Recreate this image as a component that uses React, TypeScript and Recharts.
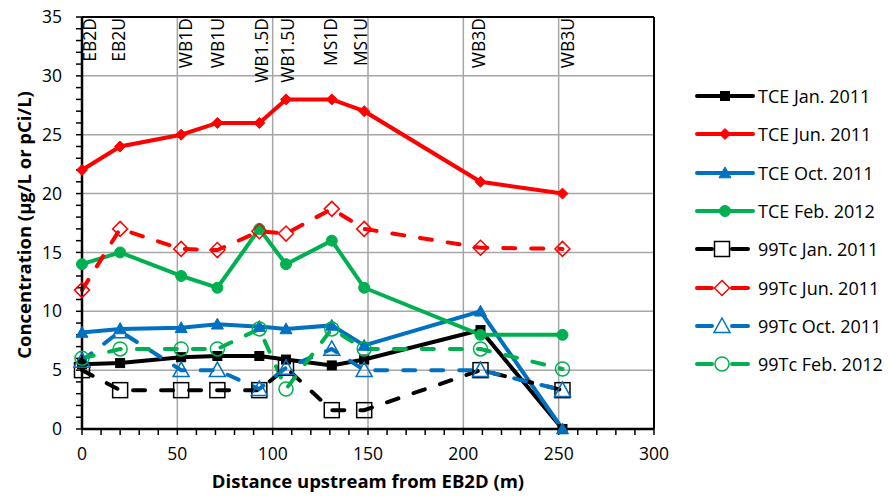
import React from 'react';
import { ComposedChart, Line, Scatter, XAxis, YAxis, CartesianGrid, Legend, ReferenceLine } from 'recharts';

// sampling sites along the stream
const sites = ['EB2D', 'EB2U', 'WB1D', 'WB1U', 'WB1.5D', 'WB1.5U', 'MS1D', 'MS1U', 'WB3D', 'WB3U'];
const distance = [0, 20, 52, 71, 93, 107, 131, 148, 209, 252];
const labelPos = [3.7, 18.9, 54, 70.8, 93.9, 107.5, 130, 145.8, 207.7, 254.3];

const tceJan2011 = [5.5, 5.6, 6.1, 6.2, 6.2, 5.9, 5.4, 5.9, 8.4, 0];
const tceJun2011 = [22, 24, 25, 26, 26, 28, 28, 27, 21, 20];
const tceOct2011 = [8.2, 8.5, 8.6, 8.9, 8.7, 8.5, 8.8, 7.1, 10, 0];
const tceFeb2012 = [14, 15, 13, 12, 17, 14, 16, 12, 8, 8];
const tcJan2011 = [5.0, 3.3, 3.3, 3.3, 3.3, 5.2, 1.6, 1.6, 5.0, 3.3];
const tcJun2011 = [11.8, 17, 15.3, 15.2, 16.8, 16.6, 18.7, 17, 15.4, 15.3];
const tcOct2011 = [5.8, 8.3, 5.0, 5.0, 3.4, 5.2, 6.8, 5.0, 5.0, 3.3];
const tcFeb2012 = [6.0, 6.8, 6.8, 6.8, 8.5, 3.4, 8.5, 6.8, 6.8, 5.1];

const xTicks = [0, 10, 20, 30, 40, 50, 60, 70, 80, 90, 100, 110, 120, 130, 140, 150, 160, 170, 180, 190, 200, 210, 220, 230, 240, 250, 260, 270, 280, 290, 300];
const yTicks = Array.from({ length: 36 }, (_, i) => i);

const FONT = '"Open Sans", sans-serif';
const BLACK = '#000000';
const RED = '#ff0000';
const BLUE = '#0070c0';
const GREEN = '#00b050';

type Shape = 'square' | 'diamond' | 'triangle' | 'circle';

interface SeriesDef {
  key: string;
  name: string;
  values: number[];
  color: string;
  shape: Shape;
  filled: boolean;
}

const series: SeriesDef[] = [
  { key: 'tceJan', name: 'TCE Jan. 2011', values: tceJan2011, color: BLACK, shape: 'square', filled: true },
  { key: 'tceJun', name: 'TCE Jun. 2011', values: tceJun2011, color: RED, shape: 'diamond', filled: true },
  { key: 'tceOct', name: 'TCE Oct. 2011', values: tceOct2011, color: BLUE, shape: 'triangle', filled: true },
  { key: 'tceFeb', name: 'TCE Feb. 2012', values: tceFeb2012, color: GREEN, shape: 'circle', filled: true },
  { key: 'tcJan', name: '99Tc Jan. 2011', values: tcJan2011, color: BLACK, shape: 'square', filled: false },
  { key: 'tcJun', name: '99Tc Jun. 2011', values: tcJun2011, color: RED, shape: 'diamond', filled: false },
  { key: 'tcOct', name: '99Tc Oct. 2011', values: tcOct2011, color: BLUE, shape: 'triangle', filled: false },
  { key: 'tcFeb', name: '99Tc Feb. 2012', values: tcFeb2012, color: GREEN, shape: 'circle', filled: false },
];

const data = distance.map((d, i) => {
  const row: Record<string, number> = { x: d };
  series.forEach(s => { row[s.key] = s.values[i]; });
  return row;
});

const labelData = labelPos.map((x, i) => ({ x, y: 35, name: sites[i] }));

const marker = (shape: Shape, color: string, filled: boolean, cx: number, cy: number, key?: any) => {
  const fill = filled ? color : 'none';
  const sw = filled ? 1 : 1.5;
  if (shape === 'square') {
    const s = filled ? 4.5 : 7.5;
    return <rect key={key} x={cx - s} y={cy - s} width={s * 2} height={s * 2} fill={fill} stroke={filled ? color : BLACK} strokeWidth={sw} />;
  }
  if (shape === 'diamond') {
    const d = filled ? 5.5 : 7.5;
    return <path key={key} d={`M${cx},${cy - d}L${cx + d},${cy}L${cx},${cy + d}L${cx - d},${cy}Z`} fill={fill} stroke={color} strokeWidth={sw} />;
  }
  if (shape === 'triangle') {
    const t = filled ? 6 : 8;
    return <path key={key} d={`M${cx},${cy - t}L${cx + t},${cy + t * 0.8}L${cx - t},${cy + t * 0.8}Z`} fill={fill} stroke={color} strokeWidth={sw} />;
  }
  return <circle key={key} cx={cx} cy={cy} r={filled ? 5.5 : 7} fill={fill} stroke={color} strokeWidth={sw} />;
};

const makeDot = (s: SeriesDef) => (p: any) => {
  if (p.cx == null || p.cy == null) return <g key={p.index} />;
  return marker(s.shape, s.color, s.filled, p.cx, p.cy, p.index);
};

const SiteLabel = (p: any) => {
  const { cx, cy, payload } = p;
  if (cx == null) return <g />;
  const y = cy + 1;
  return (
    <text
      x={cx}
      y={y}
      transform={`rotate(-90 ${cx} ${y})`}
      textAnchor="end"
      dominantBaseline="central"
      fontFamily={FONT}
      fontSize={17.5}
      fill={BLACK}
    >
      {payload.name}
    </text>
  );
};

const renderLegend = () => (
  <div style={{ fontFamily: FONT, fontSize: 18, color: BLACK }}>
    {series.map(s => (
      <div key={s.key} style={{ display: 'flex', alignItems: 'center', height: 38.3 }}>
        <svg width={66} height={20}>
          {s.filled ? (
            <line x1={7} y1={10} x2={63} y2={10} stroke={s.color} strokeWidth={4} strokeLinecap="round" />
          ) : (
            <g>
              <line x1={7} y1={10} x2={22} y2={10} stroke={s.color} strokeWidth={4} strokeLinecap="round" />
              <line x1={42} y1={10} x2={58} y2={10} stroke={s.color} strokeWidth={4} strokeLinecap="round" />
            </g>
          )}
          {marker(s.shape, s.color, s.filled, s.filled ? 35 : 32, 10)}
        </svg>
        <span style={{ marginLeft: 2, whiteSpace: 'nowrap' }}>{s.name}</span>
      </div>
    ))}
  </div>
);

export default function App() {
  return (
    <div style={{ position: 'absolute', left: 0, top: 0, width: 890, height: 504, background: '#fff' }}>
      <ComposedChart width={890} height={504} data={data} margin={{ top: 17, right: 36, bottom: 14, left: 22 }}>
        <CartesianGrid
          stroke="#a6a6a6"
          strokeWidth={1.5}
          verticalValues={[50, 100, 150, 200, 250]}
          horizontalValues={[5, 10, 15, 20, 25, 30]}
        />
        <XAxis
          type="number"
          dataKey="x"
          domain={[0, 300]}
          ticks={xTicks}
          interval={0}
          tickFormatter={(v: number) => (v % 50 === 0 ? String(v) : '')}
          tick={{ fill: BLACK, fontSize: 17.5, fontFamily: FONT }}
          tickLine={{ stroke: BLACK, strokeWidth: 1.5 }}
          tickSize={6}
          tickMargin={13}
          axisLine={{ stroke: BLACK, strokeWidth: 2.5 }}
          height={61}
          label={{ value: 'Distance upstream from EB2D (m)', position: 'insideBottom', offset: 2, fill: BLACK, fontSize: 18.5, fontWeight: 700, fontFamily: FONT }}
        />
        <YAxis
          type="number"
          domain={[0, 35]}
          ticks={yTicks}
          interval={0}
          tickFormatter={(v: number) => (v % 5 === 0 ? String(v) : '')}
          tick={{ fill: BLACK, fontSize: 17.5, fontFamily: FONT }}
          tickLine={{ stroke: BLACK, strokeWidth: 1.5 }}
          tickSize={6}
          tickMargin={14}
          axisLine={{ stroke: BLACK, strokeWidth: 2.5 }}
          width={60}
          label={{ value: 'Concentration (µg/L or pCi/L)', angle: -90, position: 'insideLeft', offset: 2, dy: 2, style: { textAnchor: 'middle' }, fill: BLACK, fontSize: 18.5, fontWeight: 700, fontFamily: FONT }}
        />
        <ReferenceLine y={35} stroke={BLACK} strokeWidth={2} />
        <ReferenceLine x={300} stroke={BLACK} strokeWidth={2} />
        {series.map(s => (
          <Line
            key={s.key}
            type="linear"
            dataKey={s.key}
            name={s.name}
            stroke={s.color}
            strokeWidth={4}
            strokeDasharray={s.filled ? undefined : '12 16'}
            strokeLinecap="round"
            dot={makeDot(s)}
            activeDot={false}
            isAnimationActive={false}
            legendType="none"
          />
        ))}
        <Scatter data={labelData} dataKey="y" shape={SiteLabel} isAnimationActive={false} legendType="none" />
        <Legend
          content={renderLegend}
          layout="vertical"
          verticalAlign="top"
          align="right"
          wrapperStyle={{ left: 690, top: 77, width: 200 }}
        />
      </ComposedChart>
    </div>
  );
}
